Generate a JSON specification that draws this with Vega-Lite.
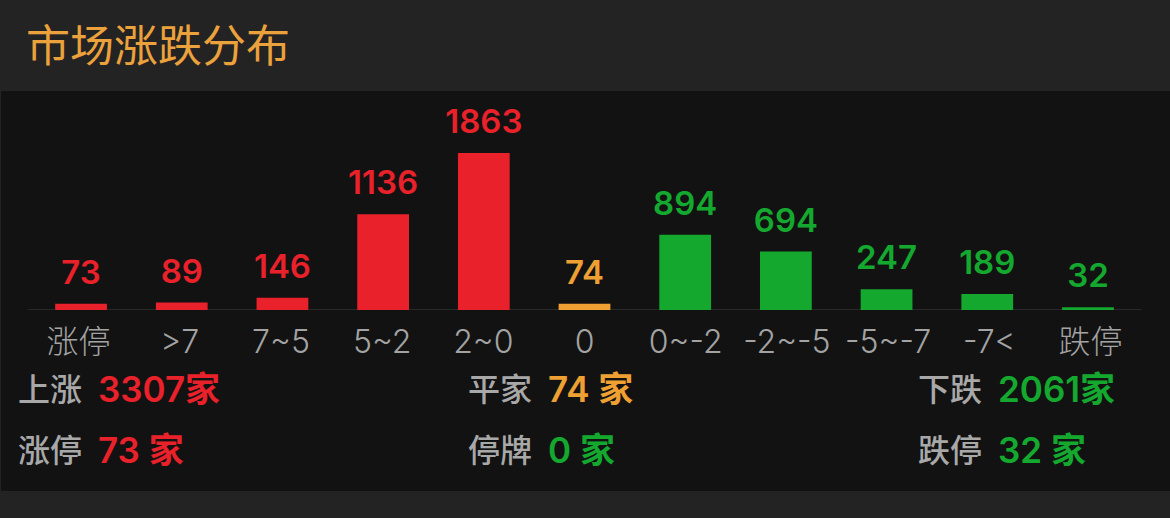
{
  "$schema": "https://vega.github.io/schema/vega-lite/v6.json",
  "background": "#232323",
  "padding": {"top": 26, "bottom": 28, "left": 0, "right": 0},
  "spacing": 0,
  "bounds": "flush",
  "title": {
    "text": "市场涨跌分布",
    "anchor": "start",
    "frame": "group",
    "font": "Noto Sans CJK SC",
    "fontSize": 44,
    "fontWeight": 400,
    "color": "#eba13c",
    "dx": 25,
    "offset": 20
  },
  "datasets": {
    "bins": [
      {"cat": "涨停", "n": 73, "grp": "up"},
      {"cat": ">7", "n": 89, "grp": "up"},
      {"cat": "7~5", "n": 146, "grp": "up"},
      {"cat": "5~2", "n": 1136, "grp": "up"},
      {"cat": "2~0", "n": 1863, "grp": "up"},
      {"cat": "0", "n": 74, "grp": "flat"},
      {"cat": "0~-2", "n": 894, "grp": "down"},
      {"cat": "-2~-5", "n": 694, "grp": "down"},
      {"cat": "-5~-7", "n": 247, "grp": "down"},
      {"cat": "-7<", "n": 189, "grp": "down"},
      {"cat": "跌停", "n": 32, "grp": "down"}
    ],
    "stats": [
      {"col": 0, "row": 0, "lab": "上涨", "val": "3307家", "grp": "up"},
      {"col": 1, "row": 0, "lab": "平家", "val": "74 家", "grp": "flat"},
      {"col": 2, "row": 0, "lab": "下跌", "val": "2061家", "grp": "down"},
      {"col": 0, "row": 1, "lab": "涨停", "val": "73 家", "grp": "up"},
      {"col": 1, "row": 1, "lab": "停牌", "val": "0 家", "grp": "down"},
      {"col": 2, "row": 1, "lab": "跌停", "val": "32 家", "grp": "down"}
    ]
  },
  "vconcat": [
    {
      "width": 1170,
      "height": 219,
      "data": {"name": "bins"},
      "encoding": {
        "x": {
          "field": "cat",
          "type": "nominal",
          "sort": null,
          "scale": {"range": [27, 1140], "paddingInner": 0.486, "paddingOuter": 0.27},
          "axis": {"labels": false, "ticks": false, "title": null, "grid": false, "domainColor": "#707070", "domainWidth": 1.5}
        },
        "y": {"field": "n", "type": "quantitative", "scale": {"domain": [0, 2600]}, "axis": null},
        "color": {
          "field": "grp",
          "type": "nominal",
          "scale": {"domain": ["up", "flat", "down"], "range": ["#e8212a", "#eea032", "#14a82f"]},
          "legend": null
        }
      },
      "layer": [
        {"mark": {"type": "bar"}},
        {
          "mark": {"type": "text", "baseline": "alphabetic", "dy": -20, "font": "Inter", "fontSize": 33, "fontWeight": 600},
          "encoding": {"text": {"field": "n", "type": "quantitative"}}
        }
      ]
    },
    {
      "width": 1170,
      "height": 66,
      "data": {"name": "bins"},
      "mark": {"type": "text", "font": "Inter, Noto Sans CJK SC", "fontSize": 32, "fontWeight": 300, "color": "#a3a3a3", "baseline": "middle"},
      "encoding": {
        "x": {
          "field": "cat",
          "type": "nominal",
          "sort": null,
          "scale": {"range": [27, 1140], "paddingInner": 0.486, "paddingOuter": 0.27},
          "axis": null
        },
        "text": {"field": "cat"}
      }
    },
    {
      "width": 1170,
      "height": 114,
      "data": {"name": "stats"},
      "encoding": {
        "x": {"field": "col", "type": "quantitative", "scale": {"domain": [0, 2], "range": [17, 917]}, "axis": null},
        "y": {"field": "row", "type": "quantitative", "scale": {"domain": [0, 1], "range": [15, 76]}, "axis": null}
      },
      "layer": [
        {
          "mark": {"type": "text", "align": "left", "baseline": "middle", "font": "Noto Sans CJK SC", "fontSize": 32, "fontWeight": 500, "color": "#a8a8a8"},
          "encoding": {"text": {"field": "lab"}}
        },
        {
          "mark": {"type": "text", "align": "left", "baseline": "middle", "dx": 80, "font": "Inter, Noto Sans CJK SC", "fontSize": 35, "fontWeight": 600},
          "encoding": {
            "text": {"field": "val"},
            "color": {
              "field": "grp",
              "type": "nominal",
              "scale": {"domain": ["up", "flat", "down"], "range": ["#e0303a", "#eea032", "#22aa3c"]},
              "legend": null
            }
          }
        }
      ]
    }
  ],
  "config": {
    "view": {"fill": "#121212", "stroke": "#121212", "strokeWidth": 1}
  }
}
